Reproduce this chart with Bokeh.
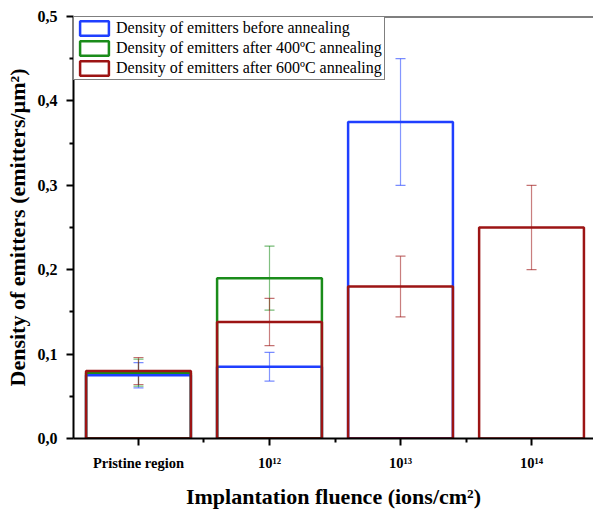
from bokeh.plotting import figure
from bokeh.models import (ColumnDataSource, FixedTicker, CustomJSTickFormatter, Whisker,
                          TeeHead, Span, Legend, LegendItem, Range1d)
from bokeh.embed import file_html
from bokeh.resources import INLINE

categories = ["Pristine region", "10¹²", "10¹³", "10¹⁴"]
cat_pos = [1, 2, 3, 4]

before_x = [1, 2, 3]
before_val = [0.075, 0.085, 0.375]
before_err = [0.015, 0.017, 0.075]

after400_x = [1, 2]
after400_val = [0.078, 0.190]
after400_err = [0.016, 0.038]

after600_x = [1, 2, 3, 4]
after600_val = [0.080, 0.138, 0.180, 0.250]
after600_err = [0.016, 0.028, 0.036, 0.050]

series = [
    ("Density of emitters before annealing", before_x, before_val, before_err, "#1f3fff"),
    ("Density of emitters after 400ºC annealing", after400_x, after400_val, after400_err, "#1a8c1a"),
    ("Density of emitters after 600ºC annealing", after600_x, after600_val, after600_err, "#9c1414"),
]

FONT = "Liberation Serif"

p = figure(width=593, height=511, output_backend="svg", toolbar_location=None,
           x_range=Range1d(0.504, 4.473), y_range=Range1d(0, 0.5),
           min_border_left=73, min_border_right=0, min_border_top=16, min_border_bottom=73)
p.outline_line_color = None
p.grid.visible = False
p.background_fill_color = "white"
p.border_fill_color = "white"

items = []
for name, xs, vals, errs, color in series:
    src = ColumnDataSource(dict(x=xs, top=vals,
                                upper=[v + e for v, e in zip(vals, errs)],
                                lower=[v - e for v, e in zip(vals, errs)]))
    r = p.vbar(x="x", top="top", bottom=0, width=0.8, source=src,
               fill_color=None, line_color=color, line_width=2.5)
    items.append(LegendItem(label=name, renderers=[r]))
    w = Whisker(source=src, base="x", upper="upper", lower="lower",
                line_color=color, line_alpha=0.55, line_width=1.2,
                upper_head=TeeHead(size=10, line_color=color, line_alpha=0.6, line_width=1.2),
                lower_head=TeeHead(size=10, line_color=color, line_alpha=0.6, line_width=1.2))
    p.add_layout(w)

p.add_layout(Span(location=0.5, dimension="width", line_color="black", line_width=2))

legend = Legend(items=items, location="top_left")
legend.border_line_color = "black"
legend.border_line_width = 1
legend.background_fill_alpha = 1
legend.margin = 0
legend.padding = 2
legend.spacing = 2
legend.glyph_width = 36
legend.glyph_height = 18
legend.label_height = 18
legend.label_standoff = 4
legend.label_text_font = FONT
legend.label_text_font_size = "16px"
legend.label_text_color = "black"
p.add_layout(legend)

# axes
p.xaxis.ticker = FixedTicker(ticks=cat_pos, minor_ticks=[1.5, 2.5, 3.5])
p.xaxis.major_label_overrides = {k: lab for k, lab in zip(cat_pos, categories)}
p.yaxis.ticker = FixedTicker(ticks=[0, 0.1, 0.2, 0.3, 0.4, 0.5],
                             minor_ticks=[0.05, 0.15, 0.25, 0.35, 0.45])
p.yaxis.formatter = CustomJSTickFormatter(code="return tick.toFixed(1).replace('.', ',');")

for ax in (p.xaxis[0], p.yaxis[0]):
    ax.axis_line_width = 2
    ax.axis_line_color = "black"
    ax.major_tick_line_width = 2
    ax.minor_tick_line_width = 2
    ax.major_tick_in = 0
    ax.major_tick_out = 7
    ax.minor_tick_in = 0
    ax.minor_tick_out = 4
    ax.major_label_text_font = FONT
    ax.major_label_text_font_style = "bold"
    ax.major_label_text_color = "black"
    ax.axis_label_text_font = FONT
    ax.axis_label_text_font_style = "bold"
    ax.axis_label_text_color = "black"

p.xaxis.major_label_text_font_size = "14.5px"
p.yaxis.major_label_text_font_size = "16px"
p.xaxis.major_label_standoff = 9
p.yaxis.major_label_standoff = 9
p.yaxis.axis_label = "Density of emitters (emitters/µm²)"
p.yaxis.axis_label_text_font_size = "22px"
p.yaxis.axis_label_standoff = 5
p.xaxis.axis_label = "Implantation fluence (ions/cm²)"
p.xaxis.axis_label_text_font_size = "22px"
p.xaxis.axis_label_standoff = 10

open("out.html", "w").write(file_html(p, INLINE))
